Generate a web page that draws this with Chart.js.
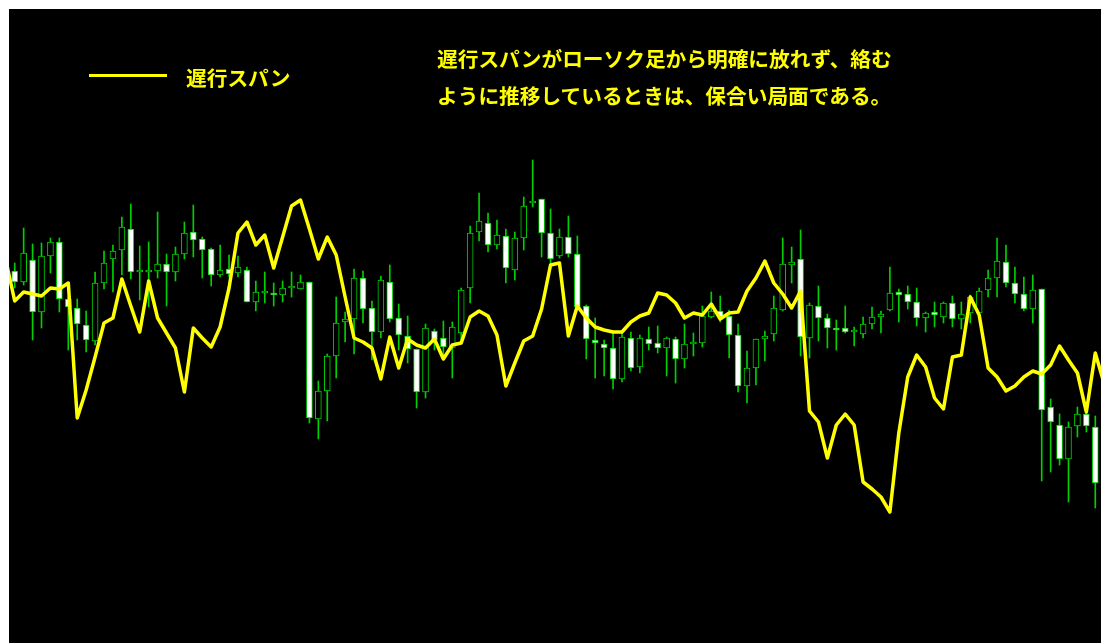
<!DOCTYPE html>
<html lang="ja">
<head>
  <meta charset="utf-8" />
  <title>遅行スパン</title>
  <script src="https://cdn.jsdelivr.net/npm/chart.js"></script>
  <style>
    body {
      margin: 0;
      background: #fff;
      font-family: 'Noto Sans CJK JP', 'Noto Sans', sans-serif;
    }
    #wrap {
      position: absolute;
      left: 9px;
      top: 9px;
      width: 1092px;
      height: 634px;
      background: #000;
    }
    .txt {
      position: absolute;
      color: #ffff00;
      font-size: 20.7px;
      font-weight: bold;
      line-height: 36px;
      white-space: nowrap;
    }
    #legend-line {
      position: absolute;
      left: 89px;
      top: 74px;
      width: 78px;
      height: 3px;
      background: #ffff00;
    }
  </style>
</head>
<body>
  <div id="wrap">
    <canvas id="chart" width="1092" height="634"></canvas>
  </div>

  <div id="legend-line"></div>
  <div class="txt" style="left: 186px; top: 59px;">遅行スパン</div>
  <div class="txt" style="left: 437px; top: 40px;">遅行スパンがローソク足から明確に放れず、絡む</div>
  <div class="txt" style="left: 437px; top: 77px;">ように推移しているときは、保合い局面である。</div>

  <script>
    // ローソク足 (1本目〜122本目)
    const opens = [372,361,383,331,387,401,344,335,318,302,360,384,393,414,371,371,372,379,371,389,
      411,404,394,368,374,370,373,341,350,350,348,355,354,361,224,252,287,321,324,365,
      335,311,361,325,307,294,251,312,305,295,310,355,411,420,398,407,373,405,440,444,
      410,387,406,389,337,303,299,295,264,305,276,304,300,295,304,284,299,300,326,332,
      327,308,257,275,304,309,333,378,384,305,337,325,315,315,311,309,319,326,333,351,
      349,341,325,331,326,340,324,330,330,353,365,381,360,349,334,354,236,218,184,217,
      229,216];
    const highs = [380,415,399,400,405,405,346,344,332,371,392,398,426,439,397,401,431,389,396,421,
      438,406,395,398,388,387,376,362,371,360,362,371,368,361,262,289,346,331,374,372,
      342,367,378,339,327,294,319,314,322,321,355,417,450,430,423,414,411,446,483,444,
      434,414,427,407,338,325,303,310,311,311,308,316,317,306,306,319,310,337,351,347,
      333,319,292,304,312,347,405,396,413,340,357,329,323,337,316,326,336,332,376,354,
      357,355,331,341,341,347,341,348,355,373,405,398,376,366,368,354,244,229,221,236,
      230,227];
    const lows = [355,358,303,315,370,331,293,303,291,298,354,351,368,364,343,336,365,337,362,384,
      386,365,357,366,366,366,341,332,340,337,341,346,354,220,204,222,265,301,289,320,
      283,305,321,293,280,235,245,293,286,265,300,340,402,391,394,360,363,393,436,386,
      378,385,386,335,284,265,267,254,261,272,270,293,290,267,260,275,287,296,325,321,
      285,251,240,258,282,302,332,360,287,285,302,295,293,310,297,305,314,310,332,321,
      334,317,311,316,320,316,314,320,328,346,346,356,340,332,320,162,171,178,141,206,
      211,135];
    const closes = [361,390,331,387,401,344,336,319,303,360,380,392,416,371,371,371,379,371,389,410,
      403,393,368,373,369,376,341,351,350,348,355,355,361,225,252,287,320,324,365,334,
      311,363,324,308,294,251,315,303,296,316,353,410,422,398,408,375,405,437,442,410,
      384,406,389,336,304,300,295,264,306,275,305,299,295,305,284,299,299,327,332,326,
      308,257,275,304,307,335,379,381,306,338,325,315,313,311,312,319,326,329,350,348,
      341,325,330,328,340,324,329,346,352,365,382,360,349,334,353,233,221,184,216,229,
      217,160];

    // 遅行スパン (左端の外側 0 から右端の外側 123 まで)
    const chikou = [383,342,351,349,347,355,354,360,225,253,286,320,325,364,337,311,362,325,310,295,
      251,315,305,296,316,355,410,421,398,408,375,406,437,443,414,384,406,388,346,305,
      301,295,264,306,275,304,298,295,304,284,298,300,326,332,327,308,257,280,302,307,
      334,378,380,307,337,325,316,313,311,311,321,327,330,350,348,340,325,330,328,339,
      324,330,331,352,365,382,360,349,335,352,232,221,185,218,229,218,161,154,146,131,
      210,266,288,276,245,234,286,288,346,328,275,266,252,257,266,272,269,278,297,283,
      270,231,290,259];

    const barIndex = opens.map((_, i) => i + 1);
    const green = '#00d000';

    new Chart(document.getElementById('chart').getContext('2d'), {
      type: 'bar',
      data: {
        datasets: [
          {
            type: 'line',
            label: '遅行スパン',
            data: chikou.map((v, i) => ({ x: i, y: v })),
            borderColor: '#ffff00',
            borderWidth: 3.5,
            borderJoinStyle: 'round',
            pointRadius: 0,
            tension: 0,
            order: 0
          },
          {
            label: 'body',
            data: barIndex.map((x, i) => ({ x, y: [opens[i], closes[i]] })),
            backgroundColor: closes.map((c, i) => c < opens[i] ? '#ffffff' : '#000000'),
            borderColor: green,
            borderWidth: 1,
            borderSkipped: false,
            barThickness: 6,
            minBarLength: 2,
            grouped: false,
            order: 1
          },
          {
            label: 'wick',
            data: barIndex.map((x, i) => ({ x, y: [lows[i], highs[i]] })),
            backgroundColor: green,
            barThickness: 1,
            grouped: false,
            order: 2
          }
        ]
      },
      options: {
        responsive: false,
        animation: false,
        plugins: { legend: { display: false }, tooltip: { enabled: false } },
        scales: {
          x: { type: 'linear', min: 0.36, max: 122.64, offset: false, display: false },
          y: { min: 0, max: 634, display: false }
        }
      }
    });
  </script>
</body>
</html>
